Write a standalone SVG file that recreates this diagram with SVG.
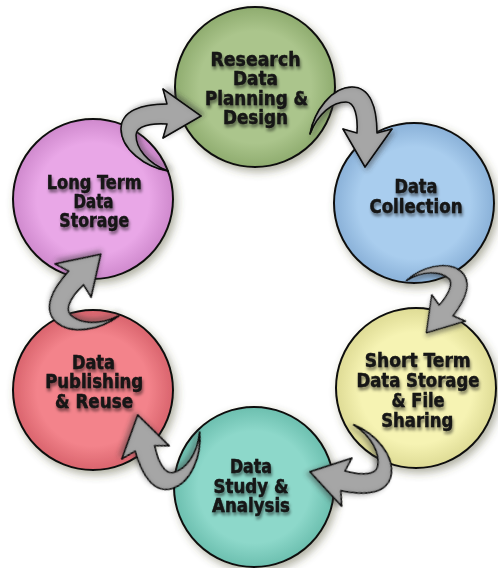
<svg xmlns="http://www.w3.org/2000/svg" xmlns:xlink="http://www.w3.org/1999/xlink" width="498" height="568" viewBox="0 0 498 568">
<style>
.c{stroke:#111;stroke-width:2;filter:url(#cshadow)}
.t{font-family:"DejaVu Sans Condensed","DejaVu Sans",Verdana,sans-serif;font-weight:bold;font-size:19.5px;fill:#141414;stroke:#141414;stroke-width:0.45;text-anchor:middle;filter:url(#tshadow)}
.a{fill:#a6a6a6;stroke:#151515;stroke-width:1.6;stroke-linejoin:round;filter:url(#abevel)}
</style>
<defs>
<filter id="cshadow" x="-20%" y="-20%" width="145%" height="145%">
<feGaussianBlur in="SourceAlpha" stdDeviation="4.5"/>
<feOffset dx="3" dy="4" result="o"/>
<feFlood flood-color="#4f5030" flood-opacity="0.45"/>
<feComposite in2="o" operator="in" result="s"/>
<feMerge><feMergeNode in="s"/><feMergeNode in="SourceGraphic"/></feMerge>
</filter>
<filter id="tshadow" x="-20%" y="-40%" width="140%" height="200%">
<feGaussianBlur in="SourceAlpha" stdDeviation="1.6"/>
<feOffset dx="1" dy="2.5" result="o"/>
<feFlood flood-color="#000" flood-opacity="0.5"/>
<feComposite in2="o" operator="in" result="s"/>
<feMerge><feMergeNode in="s"/><feMergeNode in="SourceGraphic"/></feMerge>
</filter>
<filter id="abevel" x="-30%" y="-30%" width="160%" height="160%">
<feGaussianBlur in="SourceAlpha" stdDeviation="2.5" result="b"/>
<feComposite in="SourceAlpha" in2="b" operator="arithmetic" k2="1" k3="-1" result="edge"/>
<feFlood flood-color="#000" flood-opacity="0.6"/>
<feComposite in2="edge" operator="in" result="shade"/>
<feGaussianBlur in="SourceAlpha" stdDeviation="2.5" result="db"/>
<feOffset in="db" dx="2" dy="3" result="dbo"/>
<feFlood flood-color="#333" flood-opacity="0.45"/>
<feComposite in2="dbo" operator="in" result="drop"/>
<feMerge><feMergeNode in="drop"/><feMergeNode in="SourceGraphic"/><feMergeNode in="shade"/></feMerge>
</filter>
<radialGradient id="gGreen"><stop offset="0.7" stop-color="#abc58c"/><stop offset="1" stop-color="#8fac6f"/></radialGradient>
<radialGradient id="gBlue"><stop offset="0.7" stop-color="#a9cdee"/><stop offset="1" stop-color="#8ab1d8"/></radialGradient>
<radialGradient id="gYellow"><stop offset="0.7" stop-color="#f6f3b3"/><stop offset="1" stop-color="#dedb95"/></radialGradient>
<radialGradient id="gTeal"><stop offset="0.7" stop-color="#8dd8ca"/><stop offset="1" stop-color="#6cbfaf"/></radialGradient>
<radialGradient id="gRed"><stop offset="0.7" stop-color="#f3838b"/><stop offset="1" stop-color="#d9646d"/></radialGradient>
<radialGradient id="gPink"><stop offset="0.7" stop-color="#e9a7e7"/><stop offset="1" stop-color="#cf89cd"/></radialGradient>
<path id="arrow" d="M310,134 C314,111 332,87 352,87 C370,87 377,107 377,133 L392,129 L365,167 L343,129 L357,133 C358,117 355,102 346,102 C333,102 318,113 310,134 Z"/>
</defs>

<g id="node-research">
<circle class="c" cx="255" cy="87" r="80" fill="url(#gGreen)"/>
<text class="t" x="255.5" y="65.5" textLength="90" lengthAdjust="spacingAndGlyphs">Research</text>
<text class="t" x="255.5" y="85" textLength="45" lengthAdjust="spacingAndGlyphs">Data</text>
<text class="t" x="256.5" y="104.5" textLength="103" lengthAdjust="spacingAndGlyphs">Planning &amp;</text>
<text class="t" x="255.5" y="124" textLength="65" lengthAdjust="spacingAndGlyphs">Design</text>
</g>
<g id="node-collection">
<circle class="c" cx="414" cy="203" r="80" fill="url(#gBlue)"/>
<text class="t" x="416" y="193" textLength="43" lengthAdjust="spacingAndGlyphs">Data</text>
<text class="t" x="416" y="212.5" textLength="93" lengthAdjust="spacingAndGlyphs">Collection</text>
</g>
<g id="node-shortterm">
<circle class="c" cx="416" cy="388" r="80" fill="url(#gYellow)"/>
<text class="t" x="417.7" y="367.3" textLength="106" lengthAdjust="spacingAndGlyphs">Short Term</text>
<text class="t" x="418" y="387.3" textLength="123" lengthAdjust="spacingAndGlyphs">Data Storage</text>
<text class="t" x="418" y="406.8" textLength="53" lengthAdjust="spacingAndGlyphs">&amp; File</text>
<text class="t" x="417.2" y="426.7" textLength="72" lengthAdjust="spacingAndGlyphs">Sharing</text>
</g>
<g id="node-study">
<circle class="c" cx="254" cy="487" r="80" fill="url(#gTeal)"/>
<text class="t" x="251" y="472.7" textLength="42" lengthAdjust="spacingAndGlyphs">Data</text>
<text class="t" x="251" y="492.7" textLength="75" lengthAdjust="spacingAndGlyphs">Study &amp;</text>
<text class="t" x="251" y="512.3" textLength="78" lengthAdjust="spacingAndGlyphs">Analysis</text>
</g>
<g id="node-publishing">
<circle class="c" cx="93" cy="390" r="80" fill="url(#gRed)"/>
<text class="t" x="93.5" y="368.5" textLength="43" lengthAdjust="spacingAndGlyphs">Data</text>
<text class="t" x="94.2" y="388" textLength="98" lengthAdjust="spacingAndGlyphs">Publishing</text>
<text class="t" x="94" y="408" textLength="78" lengthAdjust="spacingAndGlyphs">&amp; Reuse</text>
</g>
<g id="node-longterm">
<circle class="c" cx="93" cy="199" r="80" fill="url(#gPink)"/>
<text class="t" x="94.2" y="188.5" textLength="95" lengthAdjust="spacingAndGlyphs">Long Term</text>
<text class="t" x="93.5" y="207.5" textLength="40" lengthAdjust="spacingAndGlyphs">Data</text>
<text class="t" x="94.3" y="227" textLength="70" lengthAdjust="spacingAndGlyphs">Storage</text>
</g>

<g id="connectors">
<use id="arrow-longterm-research" class="a" xlink:href="#arrow" href="#arrow" transform="translate(200,116) rotate(-90) translate(-365,-166)"/>
<use id="arrow-research-collection" class="a" xlink:href="#arrow" href="#arrow"/>
<use id="arrow-collection-shortterm" class="a" xlink:href="#arrow" href="#arrow" transform="translate(427,332) rotate(38) scale(0.87) translate(-365,-166)"/>
<use id="arrow-shortterm-study" class="a" xlink:href="#arrow" href="#arrow" transform="translate(311,472) rotate(102) translate(-365,-166)"/>
<use id="arrow-study-publishing" class="a" xlink:href="#arrow" href="#arrow" transform="translate(138,416) rotate(164.5) translate(-365,-166)"/>
<use id="arrow-publishing-longterm" class="a" xlink:href="#arrow" href="#arrow" transform="translate(100,255) rotate(-137.3) translate(-365,-166)"/>
</g>
</svg>
